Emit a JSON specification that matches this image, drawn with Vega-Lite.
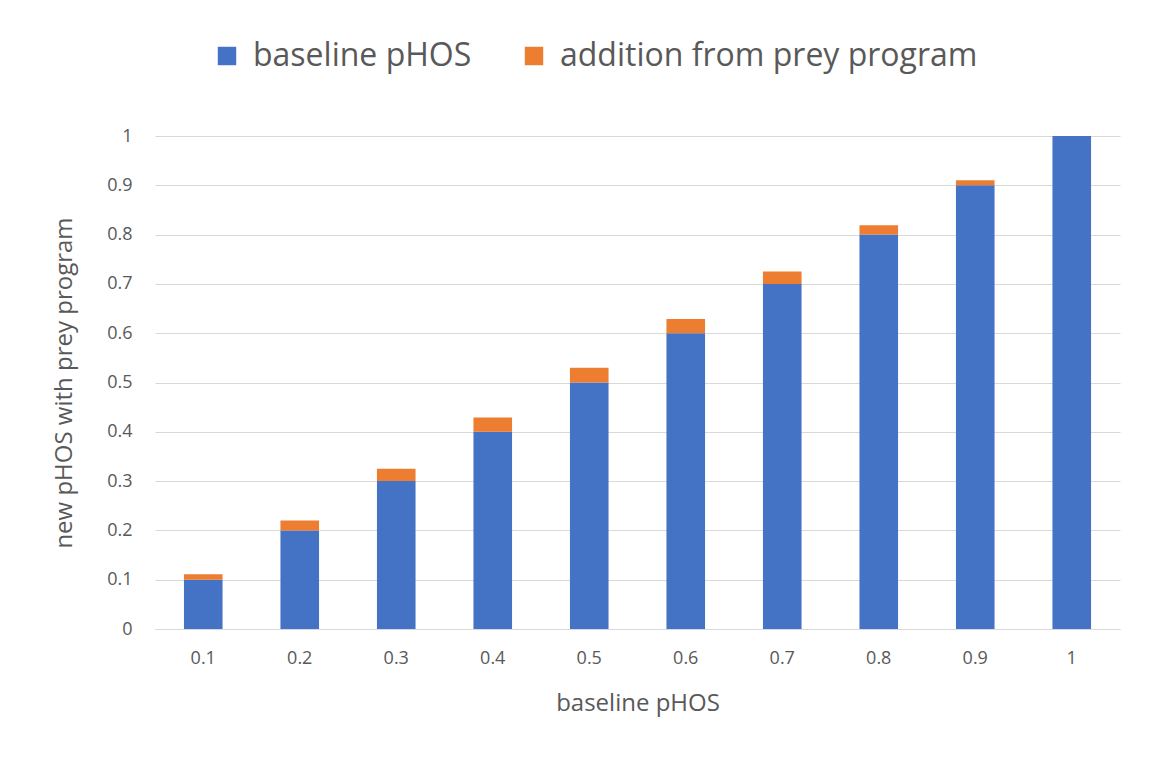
{
  "$schema": "https://vega.github.io/schema/vega-lite/v6.json",
  "width": 965,
  "height": 493,
  "autosize": "none",
  "padding": {"left": 155, "top": 136, "right": 47, "bottom": 136},
  "background": "white",
  "data": {
    "values": [
      {"x": "0.1", "series": "baseline pHOS", "k": 0, "value": 0.1},
      {"x": "0.2", "series": "baseline pHOS", "k": 0, "value": 0.2},
      {"x": "0.3", "series": "baseline pHOS", "k": 0, "value": 0.3},
      {"x": "0.4", "series": "baseline pHOS", "k": 0, "value": 0.4},
      {"x": "0.5", "series": "baseline pHOS", "k": 0, "value": 0.5},
      {"x": "0.6", "series": "baseline pHOS", "k": 0, "value": 0.6},
      {"x": "0.7", "series": "baseline pHOS", "k": 0, "value": 0.7},
      {"x": "0.8", "series": "baseline pHOS", "k": 0, "value": 0.8},
      {"x": "0.9", "series": "baseline pHOS", "k": 0, "value": 0.9},
      {"x": "1", "series": "baseline pHOS", "k": 0, "value": 1.0},
      {"x": "0.1", "series": "addition from prey program", "k": 1, "value": 0.011},
      {"x": "0.2", "series": "addition from prey program", "k": 1, "value": 0.02},
      {"x": "0.3", "series": "addition from prey program", "k": 1, "value": 0.025},
      {"x": "0.4", "series": "addition from prey program", "k": 1, "value": 0.029},
      {"x": "0.5", "series": "addition from prey program", "k": 1, "value": 0.03},
      {"x": "0.6", "series": "addition from prey program", "k": 1, "value": 0.029},
      {"x": "0.7", "series": "addition from prey program", "k": 1, "value": 0.025},
      {"x": "0.8", "series": "addition from prey program", "k": 1, "value": 0.019},
      {"x": "0.9", "series": "addition from prey program", "k": 1, "value": 0.01},
      {"x": "1", "series": "addition from prey program", "k": 1, "value": 0.0}
    ]
  },
  "mark": {"type": "bar"},
  "encoding": {
    "x": {
      "field": "x",
      "type": "ordinal",
      "sort": null,
      "scale": {"paddingInner": 0.6, "paddingOuter": 0.3},
      "axis": {
        "title": "baseline pHOS",
        "labelAngle": 0,
        "labelFontSize": 18,
        "labelColor": "#595959",
        "labelFont": "Open Sans",
        "labelPadding": 20,
        "titleFont": "Open Sans",
        "titleFontSize": 24,
        "titleFontWeight": "normal",
        "titleColor": "#595959",
        "titlePadding": 24,
        "domainColor": "#d9d9d9",
        "domainWidth": 1,
        "ticks": false
      }
    },
    "y": {
      "field": "value",
      "type": "quantitative",
      "stack": "zero",
      "scale": {"domain": [0, 1], "nice": false},
      "axis": {
        "title": "new pHOS with prey program",
        "values": [0, 0.1, 0.2, 0.3, 0.4, 0.5, 0.6, 0.7, 0.8, 0.9, 1],
        "format": "~g",
        "labelFontSize": 18,
        "labelColor": "#595959",
        "labelFont": "Open Sans",
        "labelPadding": 23,
        "titleFont": "Open Sans",
        "titleFontSize": 24,
        "titleFontWeight": "normal",
        "titleColor": "#595959",
        "titlePadding": 30,
        "domain": false,
        "ticks": false,
        "gridColor": "#d9d9d9",
        "gridWidth": 1
      }
    },
    "color": {
      "field": "series",
      "type": "nominal",
      "scale": {
        "domain": ["baseline pHOS", "addition from prey program"],
        "range": ["#4472c4", "#ed7d31"]
      },
      "legend": {
        "title": null,
        "orient": "none",
        "legendX": 56,
        "legendY": -96,
        "direction": "horizontal",
        "columns": 2,
        "columnPadding": 46,
        "symbolType": "square",
        "symbolSize": 340,
        "symbolStrokeWidth": 0,
        "labelFont": "Open Sans",
        "labelFontSize": 32,
        "labelColor": "#595959",
        "labelLimit": 600,
        "labelOffset": 10
      }
    },
    "order": {"field": "k", "type": "quantitative"}
  },
  "config": {
    "view": {"stroke": null}
  }
}
